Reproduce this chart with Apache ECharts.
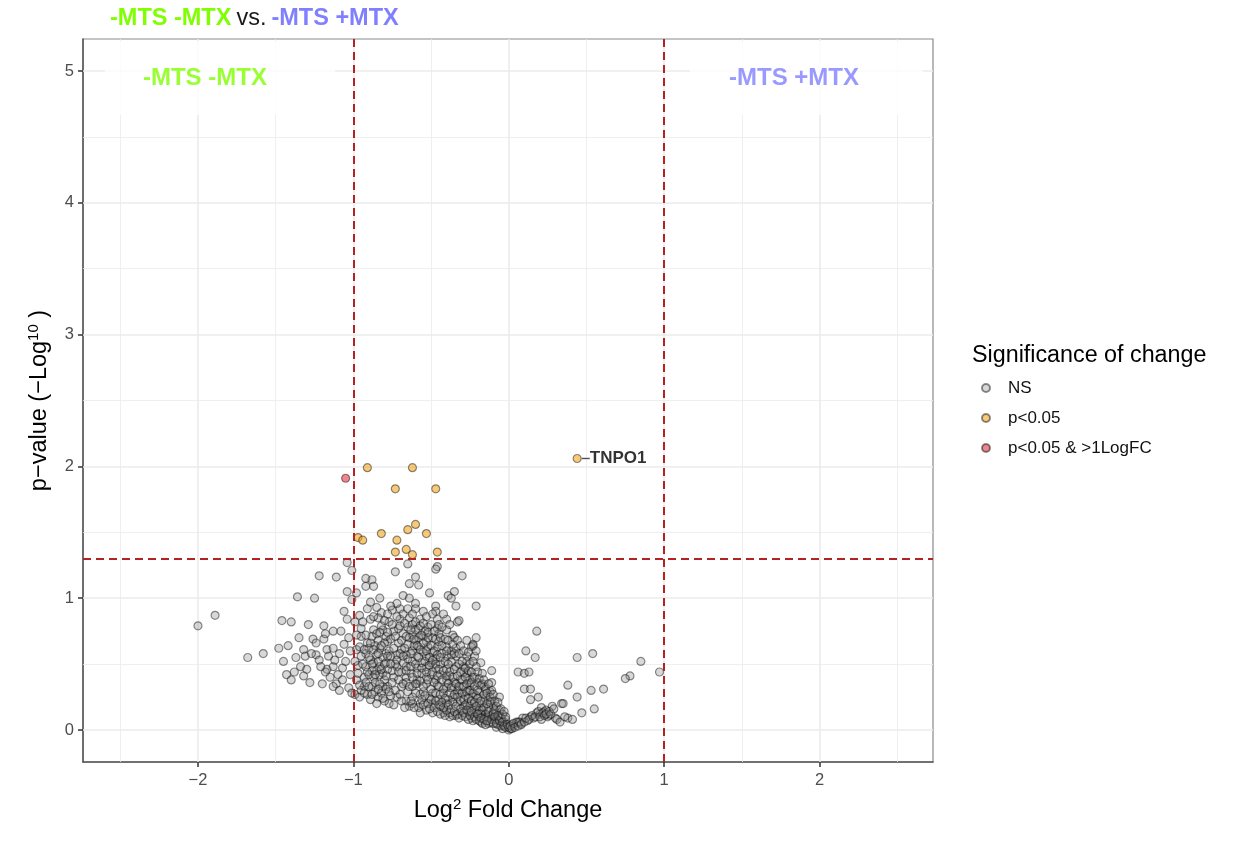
<!DOCTYPE html>
<html>
<head>
<meta charset="utf-8">
<script src="https://cdn.jsdelivr.net/npm/echarts@6/dist/echarts.min.js"></script>
<style>
html,body{margin:0;padding:0;background:#fff;}
#chart{width:1235px;height:841px;}
</style>
</head>
<body>
<div id="chart"></div>
<script>
// ---------------- data ----------------
const seriesNames = ['NS', 'p<0.05', 'p<0.05 & >1LogFC'];
const xTicks = [-2, -1, 0, 1, 2];
const yTicks = [0, 1, 2, 3, 4, 5];
const fcThresholds = [-1, 1];
const pThreshold = 1.3;
const groupLeft = '-MTS -MTX';
const groupRight = '-MTS +MTX';
const geneLabel = 'TNPO1';

// not significant (log2FC, -log10 p)
const nsPoints = [
[-2.00,0.79],[-1.89,0.87],[-1.68,0.55],[-1.58,0.58],[-1.46,0.83],[-1.40,0.82],[-1.36,1.01],[-1.25,1.00],
[-1.22,1.17],[-1.11,1.16],[-1.04,1.27],[-1.01,1.21],[-1.04,1.05],[-1.01,0.99],[-0.98,1.04],[-1.29,0.80],
[-1.42,0.64],[-1.32,0.61],[-1.31,0.56],[-1.43,0.42],[-1.40,0.38],[-1.38,0.44],[-1.34,0.48],[-1.32,0.41],
[-1.26,0.69],[-1.24,0.66],[-1.19,0.69],[-1.19,0.79],[-1.13,0.75],[-1.08,0.75],[-1.17,0.61],[-1.24,0.57],
[-1.22,0.53],[-1.16,0.56],[-1.13,0.62],[-1.09,0.58],[-1.03,0.70],[-1.04,0.84],[-1.06,0.90],[-0.99,0.82],
[-1.17,0.46],[-1.18,0.44],[-1.13,0.48],[-1.10,0.42],[-1.11,0.35],[-1.07,0.38],[-1.03,0.32],[-1.13,0.33],
[-1.01,0.28],[-0.99,0.27],[-0.96,0.25],[-0.93,0.33],[-0.98,0.61],[-0.97,0.49],[-0.95,0.71],[-0.95,0.77],
[-0.96,0.87],[-0.92,1.15],[-0.88,1.14],[-0.92,1.09],[-0.87,1.09],[-0.83,1.00],[-0.89,0.84],[-0.82,0.89],
[-0.75,0.91],[-0.70,0.92],[-0.72,0.96],[-0.68,1.02],[-0.64,1.00],[-0.60,0.96],[-0.60,0.92],[-0.73,1.20],
[-0.65,1.26],[-0.46,1.24],[-0.47,1.22],[-0.64,1.11],[-0.60,1.16],[-0.58,1.10],[-0.51,1.04],[-0.39,1.02],
[-0.35,1.05],[-0.37,1.00],[-0.30,1.17],[-0.34,0.94],[-0.21,0.94],[-0.47,0.94],[-0.47,0.90],[-0.46,0.84],
[-0.40,0.84],[-0.33,0.82],[-0.46,0.77],[-0.36,0.72],[-0.35,0.70],[-0.21,0.70],[-0.23,0.65],[-0.24,0.63],
[-0.40,0.63],[-0.27,0.56],[-0.22,0.56],[-0.18,0.51],[-0.21,0.48],[-0.11,0.45],[0.06,0.44],[-0.06,0.25],
[-0.11,0.36],[-0.20,0.36],[-0.16,0.33],[-0.12,0.29],[-0.11,0.22],[-0.10,0.14],[-0.06,0.11],[-0.03,0.06],
[0.00,0.00],[0.03,0.03],[0.06,0.06],[-0.23,0.40],[-0.27,0.43],[-0.29,0.48],[-0.25,0.34],[-0.23,0.25],
[-0.19,0.20],[-0.17,0.15],[-0.14,0.10],[-0.09,0.08],[-0.07,0.04],[-0.19,0.10],[-0.25,0.13],[-0.29,0.18],
[-0.34,0.11],[-0.38,0.10],[-0.32,0.28],[-0.36,0.25],[-0.40,0.20],[-0.44,0.18],[-0.49,0.20],[-0.53,0.15],
[-0.57,0.20],[-0.62,0.25],[-0.66,0.22],[-0.72,0.25],[-0.77,0.20],[-0.84,0.25],[-0.78,0.33],[-0.69,0.33],
[-0.62,0.33],[-0.55,0.29],[-0.49,0.28],[-0.42,0.28],[-0.36,0.33],[-0.40,0.38],[-0.47,0.38],[-0.53,0.40],
[-0.59,0.38],[-0.66,0.40],[-0.74,0.40],[-0.81,0.43],[-0.87,0.40],[-0.88,0.33],[-0.81,0.33],[-0.92,0.48],
[-0.87,0.51],[-0.83,0.48],[-0.79,0.51],[-0.72,0.48],[-0.66,0.48],[-0.59,0.47],[-0.53,0.48],[-0.47,0.47],
[-0.40,0.46],[-0.34,0.48],[-0.34,0.56],[-0.40,0.56],[-0.47,0.54],[-0.53,0.56],[-0.59,0.56],[-0.66,0.57],
[-0.72,0.57],[-0.79,0.58],[-0.85,0.57],[-0.92,0.58],[-0.91,0.66],[-0.84,0.68],[-0.78,0.67],[-0.71,0.66],
[-0.65,0.65],[-0.58,0.63],[-0.52,0.63],[-0.46,0.63],[-0.49,0.70],[-0.55,0.71],[-0.62,0.72],[-0.68,0.73],
[-0.74,0.75],[-0.81,0.76],[-0.77,0.82],[-0.70,0.84],[-0.64,0.85],[-0.57,0.84],[-0.52,0.78],[-0.58,0.77],
[-0.65,0.78],[-0.71,0.77],[-0.87,0.76],[-0.84,0.85],[-0.98,0.38],[-0.93,0.40],[-0.95,0.56],[-0.64,0.18],
[-0.57,0.13],[-0.49,0.13],[-0.42,0.13],
[0.18,0.75],[0.11,0.60],[0.17,0.55],[0.10,0.43],[0.13,0.44],[0.10,0.31],[0.14,0.31],[0.19,0.25],
[0.14,0.23],[0.44,0.55],[0.54,0.58],[0.38,0.34],[0.44,0.25],[0.53,0.30],[0.61,0.31],[0.55,0.16],
[0.47,0.13],[0.38,0.09],[0.34,0.20],[0.35,0.20],[0.85,0.52],[0.78,0.41],[0.75,0.39],[0.97,0.44],
[-0.32,0.83],[-0.23,0.64],[0.21,0.17],[0.23,0.14],[0.26,0.11],[0.30,0.09],[0.18,0.13],[0.14,0.10],
[0.09,0.09],[0.05,0.06],[0.01,0.01],[-0.04,0.04],[-0.08,0.08],[-0.11,0.11],[-0.17,0.15],[-0.10,0.18],
[-0.15,0.24],[-0.19,0.29],[-0.11,0.30],[-0.17,0.35],[-0.25,0.38],[-0.29,0.44],[-0.27,0.52],
[-0.75,0.45],[-0.69,0.44],[-0.63,0.43],[-0.56,0.43],[-0.50,0.42],[-0.44,0.42],[-0.38,0.41],[-0.31,0.38],
[-0.72,0.53],[-0.62,0.52],[-0.56,0.51],[-0.50,0.51],[-0.44,0.50],[-0.37,0.52],[-0.69,0.61],[-0.62,0.60],
[-0.55,0.59],[-0.49,0.59],[-0.43,0.58],[-0.37,0.60],[-0.60,0.68],[-0.53,0.67],[-0.45,0.67],[-0.66,0.36],
[-0.59,0.35],[-0.53,0.35],[-0.46,0.34],[-0.40,0.32],[-0.33,0.30],[-0.28,0.26],[-0.57,0.27],[-0.51,0.24],
[-0.45,0.23],[-0.39,0.23],[-0.33,0.21],[-0.27,0.20],[-0.22,0.17],[-0.30,0.14],[-0.24,0.09],[-0.18,0.06],
[-0.13,0.05],[-0.08,0.02],[-0.04,0.01],[-0.80,0.38],[-0.85,0.45],[-0.77,0.60],[-0.83,0.62],[-0.88,0.71],
[-0.45,0.73],[-0.40,0.76],[-0.42,0.88],[-0.55,0.90],[-0.62,0.80],[-0.68,0.88],[-0.35,0.36],[-0.30,0.33],
[-0.26,0.30],[-0.21,0.26],[-0.16,0.22],[-0.13,0.17],[-0.06,0.15],[-0.02,0.08],[0.02,0.04],[0.08,0.05],
[0.12,0.07],[0.16,0.09],[0.20,0.12],[0.24,0.15],[0.28,0.18],[0.25,0.10],[0.21,0.08],
[-0.84,0.52],[-0.81,0.55],[-0.78,0.46],[-0.76,0.56],[-0.74,0.62],[-0.73,0.50],[-0.71,0.44],[-0.70,0.58],
[-0.69,0.68],[-0.68,0.51],[-0.67,0.62],[-0.66,0.45],[-0.65,0.54],[-0.64,0.70],[-0.63,0.48],[-0.63,0.58],
[-0.62,0.40],[-0.61,0.64],[-0.60,0.50],[-0.60,0.76],[-0.59,0.43],[-0.58,0.55],[-0.58,0.70],[-0.57,0.37],
[-0.57,0.61],[-0.56,0.47],[-0.55,0.66],[-0.55,0.33],[-0.54,0.52],[-0.54,0.75],[-0.53,0.44],[-0.53,0.60],
[-0.52,0.38],[-0.52,0.70],[-0.51,0.49],[-0.51,0.55],[-0.50,0.31],[-0.50,0.64],[-0.49,0.44],[-0.49,0.53],
[-0.48,0.36],[-0.48,0.60],[-0.47,0.28],[-0.47,0.50],[-0.46,0.41],[-0.46,0.57],[-0.45,0.33],[-0.45,0.46],
[-0.44,0.55],[-0.44,0.27],[-0.43,0.38],[-0.43,0.64],[-0.42,0.45],[-0.42,0.31],[-0.41,0.52],[-0.41,0.24],
[-0.40,0.41],[-0.39,0.35],[-0.39,0.50],[-0.38,0.28],[-0.38,0.44],[-0.37,0.32],[-0.37,0.57],[-0.36,0.40],
[-0.36,0.21],[-0.35,0.46],[-0.35,0.27],[-0.34,0.35],[-0.34,0.62],[-0.33,0.41],[-0.33,0.25],[-0.32,0.33],
[-0.32,0.50],[-0.31,0.22],[-0.31,0.44],[-0.30,0.28],[-0.30,0.38],[-0.29,0.23],[-0.29,0.33],[-0.28,0.40],
[-0.28,0.19],[-0.27,0.29],[-0.27,0.35],[-0.26,0.24],[-0.26,0.45],[-0.25,0.18],[-0.25,0.30],[-0.24,0.22],
[-0.24,0.36],[-0.23,0.15],[-0.23,0.28],[-0.22,0.21],[-0.22,0.33],[-0.21,0.13],[-0.21,0.18],[-0.20,0.24],
[-0.20,0.30],[-0.19,0.15],[-0.18,0.12],[-0.18,0.22],[-0.17,0.09],[-0.16,0.17],[-0.16,0.27],[-0.15,0.12],
[-0.15,0.07],[-0.14,0.20],[-0.13,0.10],[-0.13,0.14],[-0.12,0.06],[-0.12,0.21],[-0.11,0.08],[-0.10,0.05],
[-0.10,0.12],[-0.09,0.10],[-0.09,0.15],[-0.08,0.05],[-0.07,0.11],[-0.06,0.07],[-0.05,0.03],[-0.05,0.09],
[-0.04,0.06],[-0.03,0.03],[-0.02,0.02],[-0.01,0.04],[0.00,0.02],[0.01,0.03],[0.02,0.01],[0.03,0.05],
[0.04,0.02],[0.06,0.03],[0.07,0.06],[0.08,0.04],[0.10,0.06],[0.11,0.09],[0.13,0.08],[0.15,0.11],
[0.17,0.10],[0.19,0.14],[0.20,0.10],[0.22,0.13],[0.23,0.11],[0.24,0.12],[0.26,0.14],[0.27,0.12],
[0.29,0.16],[0.31,0.08],[0.33,0.06],[0.36,0.10],[0.41,0.08],
[-0.62,0.20],[-0.60,0.28],[-0.58,0.17],[-0.56,0.23],[-0.55,0.19],[-0.54,0.26],[-0.52,0.20],[-0.51,0.16],
[-0.50,0.23],[-0.48,0.17],[-0.47,0.22],[-0.46,0.14],[-0.45,0.19],[-0.44,0.12],[-0.43,0.21],[-0.42,0.17],
[-0.41,0.11],[-0.40,0.15],[-0.39,0.19],[-0.38,0.13],[-0.37,0.16],[-0.36,0.11],[-0.35,0.14],[-0.34,0.18],
[-0.33,0.12],[-0.32,0.09],[-0.31,0.16],[-0.30,0.11],[-0.29,0.13],[-0.28,0.10],[-0.27,0.15],[-0.26,0.08],
[-0.25,0.11],[-0.24,0.14],[-0.23,0.07],[-0.22,0.10],[-0.21,0.08],[-0.20,0.12],[-0.19,0.07],[-0.18,0.09],
[-0.17,0.05],[-0.16,0.08],[-0.15,0.04],[-0.14,0.07],
[-0.90,0.62],[-0.89,0.53],[-0.88,0.45],[-0.86,0.64],[-0.86,0.36],[-0.85,0.73],[-0.83,0.42],[-0.82,0.79],
[-0.80,0.66],[-0.79,0.71],[-0.78,0.88],[-0.76,0.69],[-0.75,0.80],[-0.73,0.71],[-0.72,0.86],[-0.71,0.38],
[-0.70,0.79],[-0.68,0.56],[-0.67,0.81],[-0.66,0.71],[-0.65,0.92],[-0.63,0.76],[-0.62,0.88],[-0.61,0.69],
[-0.60,0.82],[-0.59,0.64],[-0.57,0.79],[-0.56,0.72],[-0.55,0.81],[-0.53,0.86],[-0.52,0.74],[-0.50,0.80],
[-0.49,0.88],[-0.48,0.75],[-0.47,0.69],[-0.45,0.80],[-0.44,0.70],[-0.43,0.78],[-0.41,0.69],[-0.40,0.60],
[-0.39,0.68],[-0.38,0.80],[-0.36,0.65],[-0.35,0.58],[-0.33,0.68],[-0.32,0.58],[-0.31,0.64],[-0.30,0.52],
[-0.29,0.60],[-0.28,0.47],[-0.27,0.68],[-0.26,0.59],[-0.25,0.50],[-0.24,0.44],[-0.23,0.52],[-0.22,0.40],
[-0.21,0.60],[-0.20,0.44],[-0.19,0.39],[-0.18,0.34],[-0.17,0.43],[-0.16,0.38],[-0.15,0.31],[-0.14,0.28],
[-0.13,0.35],[-0.12,0.25],[-0.10,0.27],[-0.09,0.22],[-0.08,0.18],[-0.07,0.21],[-0.05,0.16],[-0.04,0.12],
[-0.03,0.14],[-0.02,0.10],
[-0.95,0.30],[-0.92,0.36],[-0.91,0.27],[-0.90,0.42],[-0.89,0.23],[-0.86,0.29],[-0.85,0.20],[-0.83,0.35],
[-0.82,0.28],[-0.80,0.22],[-0.79,0.31],[-0.76,0.26],[-0.75,0.36],[-0.74,0.19],[-0.73,0.30],[-0.70,0.27],
[-0.69,0.22],[-0.68,0.35],[-0.67,0.17],[-0.65,0.29],[-0.64,0.33],[-0.63,0.22],[-0.61,0.17],[-0.60,0.35],
[-0.99,0.52],[-0.98,0.72],[-0.97,0.43],[-0.96,0.63],[-0.96,0.34],[-0.94,0.50],[-0.94,0.82],[-0.93,0.61],
[-0.93,0.28],[-0.92,0.72],[-0.91,0.44],[-0.91,0.92],[-0.90,0.55],[-0.90,0.33],[-0.89,0.66],[-0.89,0.97],
[-0.88,0.50],[-0.88,0.27],[-0.87,0.61],[-0.87,0.86],[-0.86,0.42],[-0.85,0.93],[-0.84,0.31],[-0.84,0.58],
[-0.83,0.74],[-0.82,0.46],[-0.82,0.64],[-0.81,0.24],[-0.80,0.50],[-0.80,0.83],[-0.79,0.41],[-0.78,0.56],
[-0.78,0.74],[-0.77,0.29],[-0.76,0.50],[-0.76,0.94],
[-1.48,0.62],[-1.45,0.52],[-1.37,0.55],[-1.35,0.70],[-1.30,0.46],[-1.28,0.36],[-1.27,0.58],[-1.21,0.48],
[-1.20,0.35],[-1.18,0.73],[-1.15,0.40],[-1.12,0.53],[-1.09,0.30],[-1.07,0.47],[-1.06,0.65],[-1.05,0.52],
[-1.02,0.42],[-1.02,0.60]
];

// p < 0.05
const sigPoints = [
[-0.91,1.99],[-0.62,1.99],[-0.73,1.83],[-0.47,1.83],[-0.60,1.56],[-0.65,1.52],[-0.53,1.49],[-0.82,1.49],
[-0.97,1.46],[-0.94,1.44],[-0.72,1.44],[-0.73,1.35],[-0.66,1.37],[-0.62,1.33],[-0.46,1.35]
];
const tnpo1Point = [0.44, 2.06];

// p < 0.05 & |log2FC| > 1
const sigFcPoints = [[-1.05,1.91]];

// ---------------- chart ----------------
const FONT = '"Liberation Sans", Arial, Helvetica, sans-serif';
const minus = v => String(v).replace('-', '\u2212');

const majorX = xTicks.slice();
const minorX = xTicks.map(v => v - 0.5).concat([xTicks[xTicks.length - 1] + 0.5]);
const majorY = yTicks.slice();
const minorY = yTicks.slice(0, -1).map(v => v + 0.5);

function gridLines(axis, vals, width) {
  return vals.map(v => ({ [axis]: v, lineStyle: { color: '#EBEBEB', width: width, type: 'solid' } }));
}

const chart = echarts.init(document.getElementById('chart'), null, { renderer: 'canvas' });

const pointBorder = 'rgba(0,0,0,0.55)';

const option = {
  animation: false,
  backgroundColor: '#ffffff',
  textStyle: { fontFamily: FONT },
  title: [
    {
      left: 105, top: 2,
      text: '{g|' + groupLeft + '} {k|vs.} {b|' + groupRight + '}',
      textStyle: {
        rich: {
          g: { color: '#7FFF00', fontSize: 23.5, fontWeight: 'bold', fontFamily: FONT },
          k: { color: '#1a1a1a', fontSize: 23.5, fontWeight: 'normal', fontFamily: FONT },
          b: { color: '#8080FF', fontSize: 23.5, fontWeight: 'bold', fontFamily: FONT }
        }
      }
    },
    {
      left: 967, top: 339,
      text: 'Significance of change',
      textStyle: { color: '#000', fontSize: 23.3, fontWeight: 'normal', fontFamily: FONT }
    }
  ],
  legend: {
    data: seriesNames,
    orient: 'vertical',
    left: 976, top: 374,
    itemWidth: 8, itemHeight: 8,
    itemGap: 12,
    icon: 'circle',
    textStyle: { fontSize: 17, color: '#111', lineHeight: 18, padding: [0, 0, 0, 13], fontFamily: FONT }
  },
  grid: {
    left: 83, right: 302, top: 39, bottom: 79,
    show: true, borderColor: '#8a8a8a', borderWidth: 1.2, backgroundColor: '#fff'
  },
  xAxis: {
    type: 'value', min: -2.74, max: 2.73,
    splitLine: { show: false },
    axisLine: { show: true, onZero: false, lineStyle: { color: '#555', width: 1.5 } },
    axisTick: { show: true, length: 5, customValues: xTicks, lineStyle: { color: '#333', width: 1.5 } },
    axisLabel: { customValues: xTicks, formatter: minus, color: '#4D4D4D', fontSize: 16.5, margin: 10, fontFamily: FONT },
    name: '{a|Log}{s|2}{a| Fold Change}',
    nameLocation: 'middle', nameGap: 35,
    nameTextStyle: {
      rich: {
        a: { fontSize: 23.5, color: '#000', lineHeight: 28, fontFamily: FONT },
        s: { fontSize: 15, color: '#000', lineHeight: 15, verticalAlign: 'top', fontFamily: FONT }
      }
    }
  },
  yAxis: {
    type: 'value', min: -0.243, max: 5.243,
    splitLine: { show: false },
    axisLine: { show: true, onZero: false, lineStyle: { color: '#555', width: 1.5 } },
    axisTick: { show: true, length: 5, customValues: yTicks, lineStyle: { color: '#333', width: 1.5 } },
    axisLabel: { customValues: yTicks, formatter: minus, color: '#4D4D4D', fontSize: 16.5, margin: 9, fontFamily: FONT },
    name: '{a|p\u2212value (\u2212Log}{s|10}{a| )}',
    nameLocation: 'middle', nameGap: 29, nameRotate: 90,
    nameTextStyle: {
      rich: {
        a: { fontSize: 23.5, color: '#000', lineHeight: 28, fontFamily: FONT },
        s: { fontSize: 15, color: '#000', lineHeight: 15, verticalAlign: 'top', fontFamily: FONT }
      }
    }
  },
  series: [
    {
      name: 'grid', type: 'scatter', data: [], z: 1, silent: true,
      markLine: {
        z: 1, silent: true, symbol: 'none', label: { show: false }, animation: false,
        data: [].concat(
          gridLines('xAxis', minorX, 0.8), gridLines('yAxis', minorY, 0.8),
          gridLines('xAxis', majorX, 1.6), gridLines('yAxis', majorY, 1.6)
        )
      }
    },
    {
      name: 'quadrant', type: 'scatter', z: 2, silent: true, symbolSize: 0,
      data: [
        { value: [-1.859, 4.947], text: groupLeft, color: '#7FFF00', pad: [24, 68, 26, 38] },
        { value: [1.916, 4.947], text: groupRight, color: '#8080FF', pad: [24, 64, 26, 39] }
      ].map(d => ({
        value: d.value,
        label: {
          show: true, position: 'inside', formatter: d.text,
          color: d.color, fontSize: 24, fontWeight: 'bold', fontFamily: FONT,
          backgroundColor: '#ffffff', padding: d.pad, lineHeight: 24
        }
      }))
    },
    {
      name: seriesNames[0], type: 'scatter', z: 3, symbolSize: 8,
      itemStyle: { color: 'rgba(140,140,140,0.42)', borderColor: pointBorder, borderWidth: 1.2 },
      data: nsPoints
    },
    {
      name: seriesNames[1], type: 'scatter', z: 4, symbolSize: 8,
      itemStyle: { color: 'rgba(240,165,35,0.75)', borderColor: pointBorder, borderWidth: 1.2 },
      data: sigPoints.map(p => ({ value: p })).concat([{
        value: tnpo1Point, name: geneLabel,
        label: {
          show: true, position: 'right', distance: 0,
          formatter: '{l|}{t|' + geneLabel + '}',
          rich: {
            l: { width: 8, height: 1.4, backgroundColor: '#222' },
            t: { fontSize: 17, fontWeight: 'bold', color: '#000', fontFamily: FONT }
          }
        }
      }])
    },
    {
      name: seriesNames[2], type: 'scatter', z: 5, symbolSize: 8,
      itemStyle: { color: 'rgba(225,45,55,0.72)', borderColor: pointBorder, borderWidth: 1.2 },
      data: sigFcPoints
    },
    {
      name: 'thresholds', type: 'scatter', data: [], z: 6, silent: true,
      markLine: {
        z: 10, silent: true, symbol: 'none', label: { show: false }, animation: false,
        lineStyle: { color: '#B22222', width: 2, type: [8, 5] },
        data: fcThresholds.map(v => ({ xAxis: v })).concat([{ yAxis: pThreshold }])
      }
    }
  ]
};

chart.setOption(option);
</script>
</body>
</html>
